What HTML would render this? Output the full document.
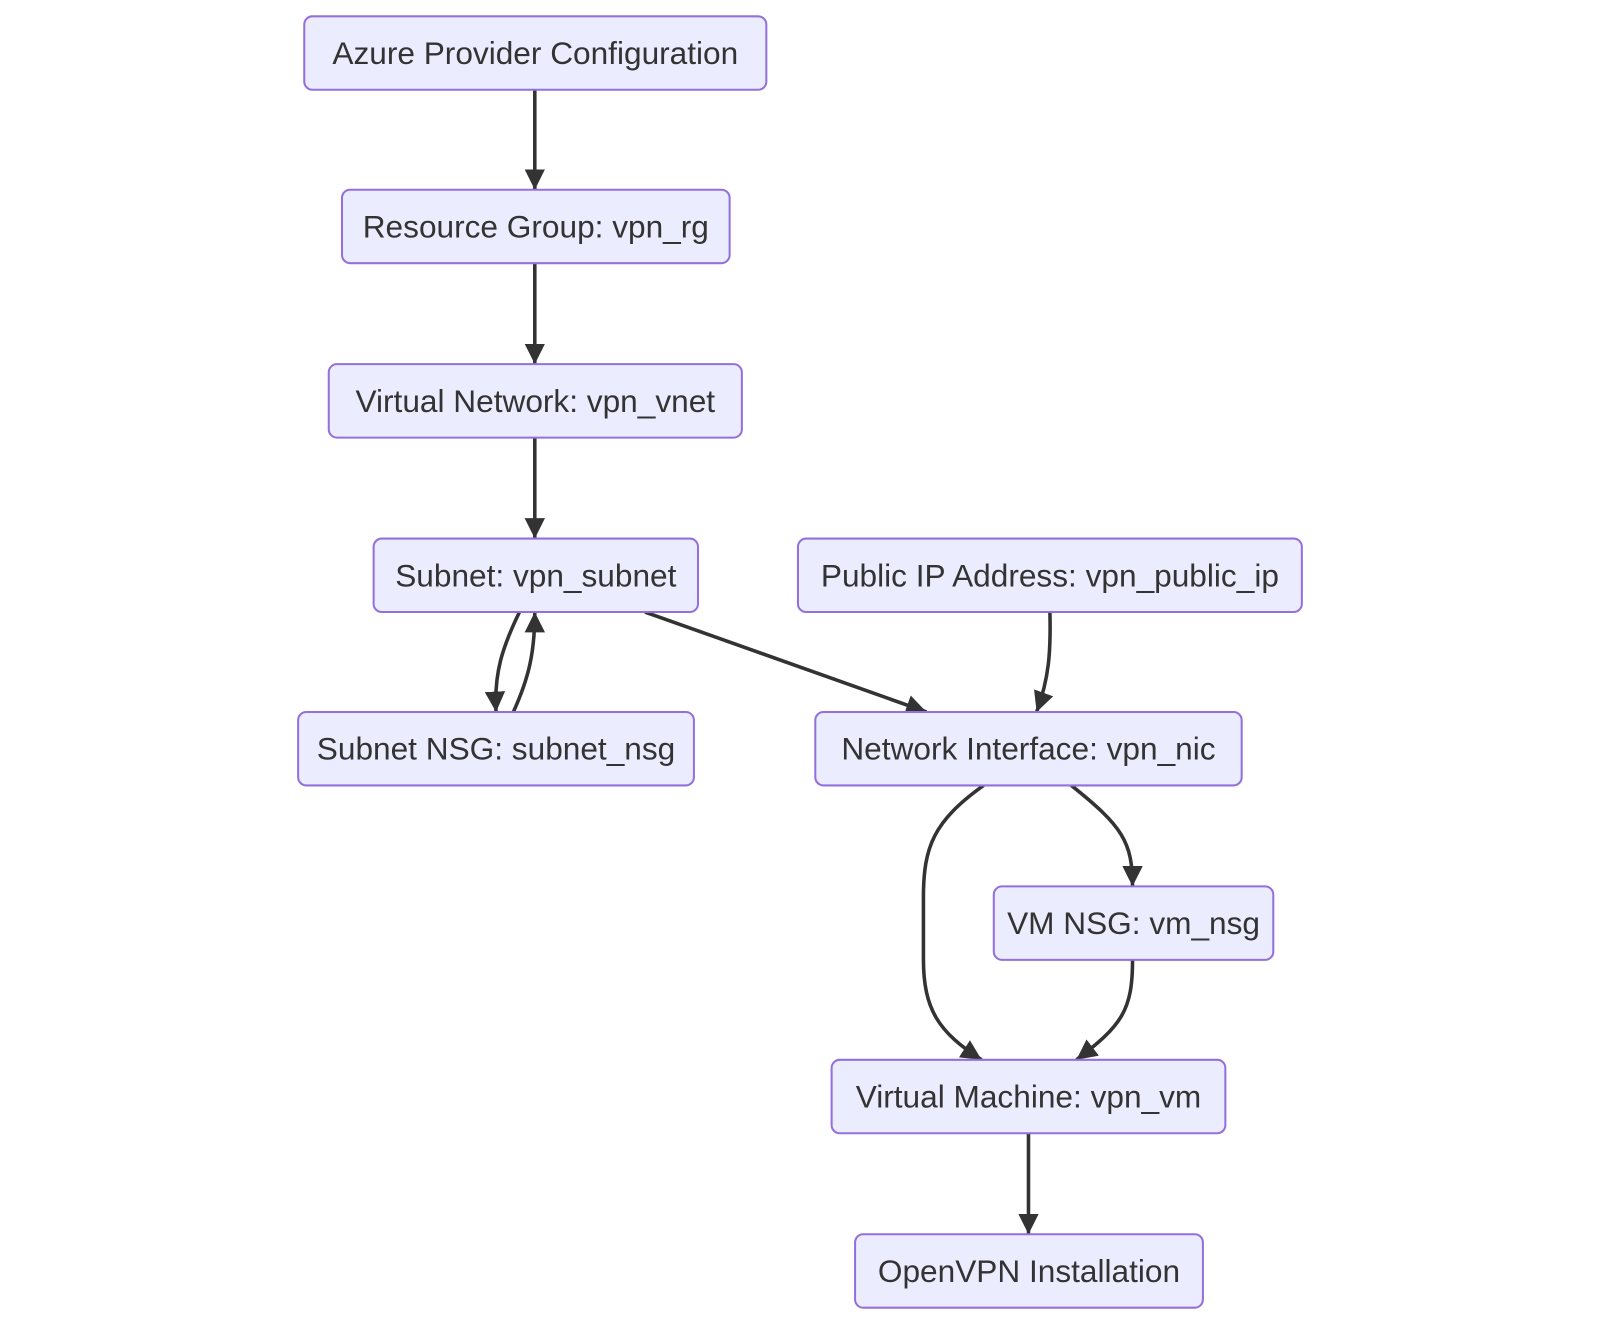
<!DOCTYPE html>
<html><head><meta charset="utf-8"><style>
html,body{margin:0;padding:0;background:#fff;}
svg{display:block;}
text{font-family:"Liberation Sans",sans-serif;font-size:31px;fill:#333;text-anchor:middle;dominant-baseline:central;}
.n{fill:#ececff;stroke:#9370db;stroke-width:2;}
.e{fill:none;stroke:#333;stroke-width:3.5;}
</style></head><body>
<svg width="1600" height="1324" viewBox="0 0 1568 1298" xmlns="http://www.w3.org/2000/svg">
<defs>
<marker id="b" viewBox="0 0 10 10" refX="10" refY="5" markerWidth="20" markerHeight="20" markerUnits="userSpaceOnUse" orient="auto"><path d="M0,0 L10,5 L0,10 z" fill="#333"/></marker></defs>
<path class="e" d="M524,88 L524,186" marker-end="url(#b)"/>
<path class="e" d="M524,258 L524,357" marker-end="url(#b)"/>
<path class="e" d="M524,429 L524,528" marker-end="url(#b)"/>
<path class="e" d="M509,600 C492,635 484,660 486,698" marker-end="url(#b)"/>
<path class="e" d="M503,698 C518,665 524,640 524,600" marker-end="url(#b)"/>
<path class="e" d="M632,600 L908,698" marker-end="url(#b)"/>
<path class="e" d="M1029,600 C1030,640 1028,665 1016,698" marker-end="url(#b)"/>
<path class="e" d="M964,770 C915,805 905,830 905,880 L905,940 C905,990 920,1012 962,1039" marker-end="url(#b)"/>
<path class="e" d="M1050,770 C1100,810 1110,825 1110,869" marker-end="url(#b)"/>
<path class="e" d="M1110,941 C1110,990 1100,1005 1055,1039" marker-end="url(#b)"/>
<path class="e" d="M1008,1111 L1008,1210" marker-end="url(#b)"/>
<rect class="n" x="298" y="16" width="453" height="72" rx="8"/><text x="524.5" y="52">Azure Provider Configuration</text>
<rect class="n" x="335" y="186" width="380" height="72" rx="8"/><text x="525" y="222">Resource Group: vpn_rg</text>
<rect class="n" x="322" y="357" width="405" height="72" rx="8"/><text x="524.5" y="393">Virtual Network: vpn_vnet</text>
<rect class="n" x="366" y="528" width="318" height="72" rx="8"/><text x="525" y="564">Subnet: vpn_subnet</text>
<rect class="n" x="782" y="528" width="494" height="72" rx="8"/><text x="1029" y="564">Public IP Address: vpn_public_ip</text>
<rect class="n" x="292" y="698" width="388" height="72" rx="8"/><text x="486" y="734">Subnet NSG: subnet_nsg</text>
<rect class="n" x="799" y="698" width="418" height="72" rx="8"/><text x="1008" y="734">Network Interface: vpn_nic</text>
<rect class="n" x="974" y="869" width="274" height="72" rx="8"/><text x="1111" y="905">VM NSG: vm_nsg</text>
<rect class="n" x="815" y="1039" width="386" height="72" rx="8"/><text x="1008" y="1075">Virtual Machine: vpn_vm</text>
<rect class="n" x="838" y="1210" width="341" height="72" rx="8"/><text x="1008.5" y="1246">OpenVPN Installation</text>
</svg>
</body></html>
